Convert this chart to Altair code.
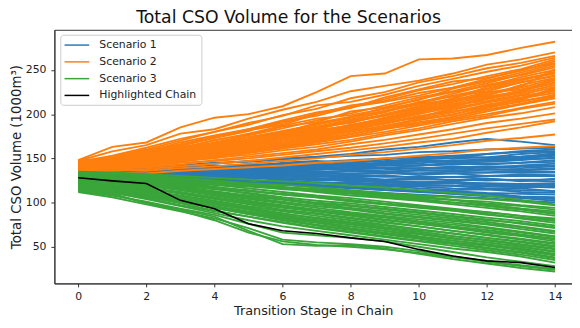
import altair as alt
import pandas as pd

stages = list(range(15))
x_ticks = [0, 2, 4, 6, 8, 10, 12, 14]
y_ticks = [50, 100, 150, 200, 250]
series_names = ["Scenario 1", "Scenario 2", "Scenario 3", "Highlighted Chain"]
series_colors = ["#2a7ab8", "#ff7f0e", "#3aa53a", "#000000"]

scenario1_chains = [
    [135, 137, 138, 141, 144, 147, 150, 152, 155, 160, 163, 168, 172, 169, 165],
    [138, 139, 141, 142, 145, 146, 149, 151, 153, 154, 157, 158, 160, 161, 162],
    [134, 135, 137, 139, 141, 143, 144, 146, 148, 150, 151, 153, 155, 157, 158],
    [137, 136, 138, 140, 140, 142, 143, 145, 146, 147, 149, 150, 151, 152, 154],
    [132, 133, 135, 136, 138, 139, 141, 141, 143, 144, 146, 146, 148, 149, 150],
    [136, 135, 136, 137, 137, 138, 139, 140, 140, 142, 142, 143, 144, 145, 146],
    [131, 132, 133, 134, 135, 136, 136, 137, 138, 139, 139, 140, 141, 141, 142],
    [133, 133, 133, 134, 133, 134, 134, 135, 135, 135, 136, 136, 137, 137, 138],
    [130, 131, 131, 131, 132, 132, 132, 132, 133, 133, 133, 133, 134, 134, 134],
    [134, 133, 132, 132, 131, 131, 130, 130, 130, 129, 129, 129, 130, 130, 130],
    [129, 129, 130, 129, 129, 128, 128, 127, 127, 126, 126, 126, 125, 126, 126],
    [132, 131, 131, 130, 129, 128, 127, 126, 125, 124, 123, 122, 122, 121, 122],
    [128, 128, 127, 127, 126, 125, 124, 123, 122, 121, 120, 119, 118, 118, 117],
    [131, 130, 129, 128, 127, 125, 124, 122, 121, 119, 118, 116, 115, 114, 113],
    [127, 127, 126, 125, 124, 122, 121, 119, 118, 116, 114, 113, 111, 110, 109],
    [130, 129, 127, 126, 124, 122, 120, 118, 116, 114, 112, 110, 108, 106, 104],
    [128, 127, 125, 124, 122, 120, 117, 115, 113, 111, 109, 107, 105, 102, 100],
    [136, 137, 139, 138, 141, 143, 141, 144, 147, 146, 150, 152, 151, 155, 157],
    [133, 134, 134, 136, 139, 138, 140, 143, 142, 145, 144, 148, 147, 150, 153],
    [129, 130, 131, 133, 132, 134, 135, 134, 136, 137, 139, 138, 140, 139, 141],
    [135, 134, 135, 133, 134, 132, 133, 131, 130, 131, 128, 129, 127, 125, 124],
    [130, 128, 128, 127, 126, 126, 123, 122, 123, 120, 119, 119, 116, 116, 113],
    [136, 138, 136, 139, 142, 140, 145, 147, 144, 149, 152, 150, 155, 158, 160],
    [133, 135, 137, 135, 138, 141, 139, 142, 145, 143, 147, 146, 149, 152, 155],
    [131, 130, 133, 135, 133, 136, 138, 137, 140, 139, 142, 144, 143, 145, 148],
    [134, 136, 134, 137, 135, 138, 136, 139, 137, 140, 138, 141, 139, 142, 144],
    [130, 132, 131, 133, 134, 132, 135, 134, 136, 135, 137, 136, 138, 137, 139],
    [137, 135, 137, 136, 134, 136, 133, 135, 132, 134, 131, 133, 130, 132, 131],
    [132, 130, 132, 129, 131, 128, 130, 127, 129, 126, 128, 125, 127, 124, 127],
    [129, 131, 128, 130, 127, 129, 125, 127, 124, 123, 121, 122, 119, 120, 118],
    [135, 133, 131, 132, 129, 130, 127, 125, 126, 123, 121, 122, 119, 117, 119],
    [127, 128, 126, 124, 125, 122, 123, 120, 118, 119, 116, 114, 115, 112, 111],
    [131, 129, 128, 126, 125, 123, 121, 120, 117, 116, 113, 112, 110, 107, 106],
    [133, 131, 129, 127, 126, 123, 120, 119, 117, 114, 113, 110, 107, 105, 102],
    [128, 130, 132, 134, 135, 137, 139, 138, 141, 143, 142, 145, 146, 148, 151],
    [136, 134, 136, 138, 137, 140, 142, 140, 143, 145, 148, 147, 149, 151, 156],
    [130, 131, 129, 131, 130, 132, 131, 133, 132, 134, 133, 135, 134, 136, 135],
    [134, 132, 133, 131, 130, 129, 127, 128, 126, 125, 123, 124, 121, 120, 121],
]

scenario2_chains = [
    [148, 163, 168, 185, 196, 200, 209, 225, 243, 246, 262, 263, 267, 275, 282],
    [147, 158, 165, 178, 183, 195, 205, 214, 226, 232, 238, 246, 256, 262, 270],
    [144, 152, 160, 170, 180, 188, 199, 206, 218, 225, 236, 243, 252, 258, 266],
    [142, 149, 156, 164, 173, 181, 192, 198, 208, 217, 227, 234, 243, 251, 262],
    [140, 146, 153, 160, 168, 176, 184, 193, 201, 210, 219, 226, 235, 245, 255],
    [145, 148, 155, 163, 167, 174, 181, 188, 196, 204, 212, 221, 229, 238, 248],
    [138, 143, 150, 156, 162, 169, 177, 184, 191, 198, 207, 214, 222, 230, 240],
    [141, 144, 147, 152, 159, 165, 172, 180, 188, 195, 203, 210, 217, 224, 233],
    [136, 141, 145, 150, 157, 162, 168, 175, 182, 189, 197, 205, 213, 219, 227],
    [143, 145, 149, 154, 156, 160, 166, 171, 178, 185, 191, 197, 205, 212, 220],
    [139, 140, 144, 148, 153, 158, 162, 168, 174, 180, 187, 194, 200, 207, 214],
    [137, 139, 142, 147, 151, 154, 159, 163, 169, 176, 182, 189, 196, 201, 208],
    [135, 138, 140, 143, 148, 152, 156, 160, 166, 171, 177, 183, 190, 195, 201],
    [140, 142, 141, 145, 147, 150, 154, 158, 162, 167, 172, 178, 184, 189, 194],
    [134, 136, 138, 141, 144, 147, 151, 155, 159, 163, 168, 172, 179, 185, 192],
    [137, 137, 136, 139, 141, 144, 147, 150, 154, 157, 161, 165, 170, 173, 177],
    [133, 134, 133, 136, 138, 140, 142, 145, 147, 150, 153, 156, 160, 162, 164],
    [146, 153, 162, 172, 180, 190, 198, 210, 214, 222, 232, 240, 248, 255, 264],
    [139, 147, 157, 165, 175, 182, 188, 200, 210, 215, 224, 230, 240, 250, 258],
    [142, 150, 152, 158, 164, 172, 180, 186, 194, 202, 214, 220, 226, 236, 244],
    [136, 140, 146, 151, 155, 161, 170, 177, 184, 192, 200, 208, 218, 226, 236],
    [144, 146, 150, 157, 161, 168, 174, 182, 186, 194, 201, 214, 224, 231, 251],
    [141, 143, 148, 153, 160, 166, 175, 179, 185, 190, 198, 203, 209, 217, 230],
    [138, 142, 144, 149, 154, 159, 164, 170, 177, 186, 193, 200, 208, 214, 222],
    [147, 151, 158, 168, 176, 183, 190, 201, 207, 219, 228, 237, 241, 249, 260],
    [143, 149, 154, 161, 171, 177, 186, 191, 203, 208, 216, 229, 237, 244, 253],
    [140, 145, 151, 159, 165, 174, 179, 190, 197, 203, 211, 217, 231, 239, 246],
    [135, 142, 149, 155, 160, 170, 176, 183, 192, 199, 206, 215, 221, 233, 241],
    [145, 147, 152, 155, 163, 171, 178, 186, 190, 200, 209, 216, 225, 228, 238],
    [137, 144, 148, 153, 158, 163, 173, 181, 187, 193, 204, 211, 215, 222, 231],
    [142, 146, 147, 151, 157, 164, 170, 176, 183, 191, 196, 207, 214, 221, 226],
    [139, 141, 146, 152, 155, 161, 165, 174, 180, 187, 194, 199, 210, 218, 224],
    [146, 150, 156, 162, 170, 178, 187, 195, 199, 206, 213, 223, 233, 240, 247],
    [134, 139, 143, 146, 152, 157, 163, 169, 175, 183, 190, 195, 203, 211, 218],
    [143, 148, 153, 160, 166, 171, 180, 189, 197, 207, 217, 225, 232, 242, 250],
    [138, 140, 145, 150, 153, 158, 167, 173, 181, 186, 195, 202, 211, 216, 229],
    [141, 145, 149, 156, 162, 167, 172, 178, 186, 192, 202, 209, 219, 227, 235],
    [136, 138, 143, 147, 150, 156, 161, 166, 171, 178, 184, 192, 198, 206, 212],
    [144, 152, 159, 166, 174, 183, 193, 202, 208, 214, 221, 230, 238, 247, 257],
    [140, 144, 150, 154, 160, 167, 174, 182, 187, 196, 205, 212, 220, 225, 239],
    [145, 148, 151, 158, 165, 170, 176, 185, 193, 199, 208, 218, 228, 236, 243],
    [137, 140, 143, 148, 154, 160, 166, 172, 178, 184, 188, 197, 207, 215, 221],
]

scenario3_chains = [
    [135, 134, 132, 130, 128, 126, 124, 122, 119, 117, 114, 111, 108, 103, 98],
    [133, 132, 130, 128, 125, 122, 120, 117, 114, 111, 107, 103, 98, 93, 88],
    [131, 130, 128, 125, 122, 119, 116, 112, 108, 105, 102, 98, 94, 90, 85],
    [134, 131, 128, 124, 120, 116, 112, 108, 105, 101, 97, 93, 89, 85, 80],
    [130, 128, 126, 122, 118, 113, 109, 106, 102, 98, 94, 91, 87, 82, 77],
    [128, 127, 124, 119, 115, 111, 106, 102, 99, 95, 91, 87, 83, 79, 74],
    [132, 129, 125, 121, 116, 110, 104, 100, 97, 93, 89, 85, 81, 76, 71],
    [126, 125, 122, 117, 112, 107, 103, 98, 94, 90, 86, 82, 78, 73, 68],
    [129, 126, 121, 116, 111, 106, 100, 96, 92, 87, 83, 79, 75, 70, 65],
    [124, 122, 119, 114, 109, 104, 99, 94, 89, 85, 81, 77, 72, 67, 62],
    [127, 124, 120, 114, 108, 102, 97, 92, 87, 83, 78, 73, 69, 64, 59],
    [122, 120, 116, 111, 106, 100, 95, 90, 86, 81, 76, 71, 66, 62, 56],
    [125, 122, 117, 110, 104, 98, 92, 88, 83, 78, 73, 68, 63, 58, 53],
    [120, 118, 114, 108, 102, 96, 90, 85, 80, 75, 70, 65, 60, 55, 50],
    [123, 119, 113, 107, 100, 94, 88, 82, 77, 72, 67, 62, 57, 52, 47],
    [118, 116, 112, 105, 98, 92, 86, 80, 75, 70, 65, 60, 55, 50, 44],
    [121, 117, 110, 103, 96, 89, 83, 78, 73, 68, 62, 57, 52, 47, 41],
    [116, 114, 108, 101, 94, 87, 80, 74, 69, 64, 59, 54, 49, 44, 38],
    [119, 115, 107, 99, 91, 84, 77, 71, 66, 61, 56, 51, 46, 41, 35],
    [114, 111, 104, 96, 88, 80, 73, 68, 63, 58, 53, 48, 44, 39, 32],
    [113, 108, 101, 93, 86, 76, 66, 63, 60, 56, 50, 44, 38, 33, 28],
    [112, 106, 98, 90, 82, 71, 58, 55, 53, 50, 45, 39, 33, 28, 24],
    [115, 109, 100, 92, 84, 68, 53, 51, 52, 48, 42, 36, 31, 26, 22],
    [117, 110, 99, 91, 80, 66, 56, 52, 50, 47, 43, 38, 34, 29, 25],
    [126, 126, 124, 122, 120, 118, 116, 114, 113, 110, 108, 106, 104, 101, 97],
    [128, 127, 126, 123, 121, 119, 117, 114, 112, 109, 106, 103, 101, 97, 94],
    [133, 131, 129, 127, 124, 121, 117, 115, 112, 108, 105, 103, 99, 96, 92],
    [129, 128, 125, 121, 117, 114, 109, 106, 101, 98, 95, 91, 86, 83, 79],
    [127, 125, 121, 118, 113, 108, 104, 99, 96, 92, 88, 84, 80, 77, 72],
    [124, 123, 119, 115, 110, 105, 101, 96, 93, 88, 84, 80, 76, 72, 67],
    [121, 119, 115, 111, 105, 101, 96, 91, 88, 84, 79, 75, 71, 66, 61],
    [123, 120, 117, 112, 106, 99, 94, 90, 85, 80, 76, 72, 67, 63, 58],
    [119, 117, 112, 107, 101, 95, 91, 87, 82, 77, 73, 68, 64, 59, 54],
    [117, 115, 110, 104, 99, 93, 87, 83, 78, 74, 69, 65, 60, 56, 51],
    [120, 116, 111, 105, 98, 92, 85, 80, 76, 71, 67, 62, 58, 53, 48],
    [115, 113, 108, 102, 96, 90, 84, 78, 73, 68, 64, 59, 55, 50, 45],
    [118, 114, 109, 102, 95, 88, 82, 77, 71, 66, 61, 57, 53, 48, 42],
    [113, 112, 106, 100, 94, 87, 81, 75, 70, 65, 60, 55, 51, 46, 40],
    [116, 112, 105, 97, 90, 84, 78, 72, 67, 62, 57, 53, 48, 43, 37],
    [130, 129, 127, 125, 121, 119, 115, 113, 110, 106, 104, 100, 97, 93, 90],
    [134, 132, 131, 127, 124, 120, 118, 113, 111, 107, 103, 100, 96, 92, 87],
    [126, 124, 123, 120, 116, 113, 110, 107, 103, 99, 96, 92, 89, 85, 82],
]

highlighted_chain = [128, 124.5, 121.5, 102.5, 93, 76, 68, 65, 60, 56, 47, 39.5, 34, 32, 26.5]


def long_table(name, chains):
    rows = []
    for i, chain in enumerate(chains):
        for s, v in zip(stages, chain):
            rows.append({"stage": s, "volume": v, "scenario": name, "chain": f"{name}-{i}"})
    return pd.DataFrame(rows)


FONT = "DejaVu Sans"

x_enc = alt.X(
    "stage:Q",
    scale=alt.Scale(domain=[-0.7, 14.5], nice=False, zero=False),
    axis=alt.Axis(values=x_ticks, title="Transition Stage in Chain", labelFontSize=11,
                  titleFontSize=13, tickSize=3.5, labelPadding=4, titlePadding=3,
                  labelFlush=False),
)
y_enc = alt.Y(
    "volume:Q",
    scale=alt.Scale(domain=[8.5, 295.5], nice=False, zero=False),
    axis=alt.Axis(values=y_ticks, title="Total CSO Volume (1000m³)", labelFontSize=11,
                  titleFontSize=13.5, tickSize=3.5, labelPadding=5, titlePadding=2,
                  labelFlush=False),
)
color_enc = alt.Color(
    "scenario:N",
    scale=alt.Scale(domain=series_names, range=series_colors),
    legend=alt.Legend(
        title=None, orient="none", legendX=6, legendY=5,
        symbolType="M-1.24,0H3.76", symbolSize=100, symbolStrokeWidth=1.5,
        labelFontSize=11, labelFont=FONT, labelOffset=23, rowPadding=6,
        padding=4.5, strokeColor="#cccccc", fillColor="rgba(255,255,255,0.85)",
        cornerRadius=3, labelColor="#222222",
    ),
)


def layer(df, width):
    return alt.Chart(df).mark_line(strokeWidth=width, clip=True).encode(
        x=x_enc, y=y_enc, color=color_enc, detail="chain:N"
    )


chart = alt.layer(
    layer(long_table("Scenario 1", scenario1_chains), 1.9),
    layer(long_table("Scenario 2", scenario2_chains), 1.9),
    layer(long_table("Scenario 3", scenario3_chains), 1.9),
    layer(long_table("Highlighted Chain", [highlighted_chain]), 1.6),
).properties(
    width=524.5,
    height=257,
    autosize="none",
    padding={"left": 47, "top": 20, "right": 0, "bottom": 36},
    title=alt.TitleParams("Total CSO Volume for the Scenarios", fontSize=17.5, font=FONT,
                          fontWeight="normal", anchor="middle", dx=-25, offset=3,
                          color="#111111"),
).configure_view(
    stroke="#333333", strokeWidth=1
).configure_axis(
    grid=False, domainColor="#333333", tickColor="#333333", labelColor="#222222",
    titleColor="#222222", labelFont=FONT, titleFont=FONT, titleFontWeight="normal",
)

chart.save("out.html", embed_options={"renderer": "svg", "actions": False})
